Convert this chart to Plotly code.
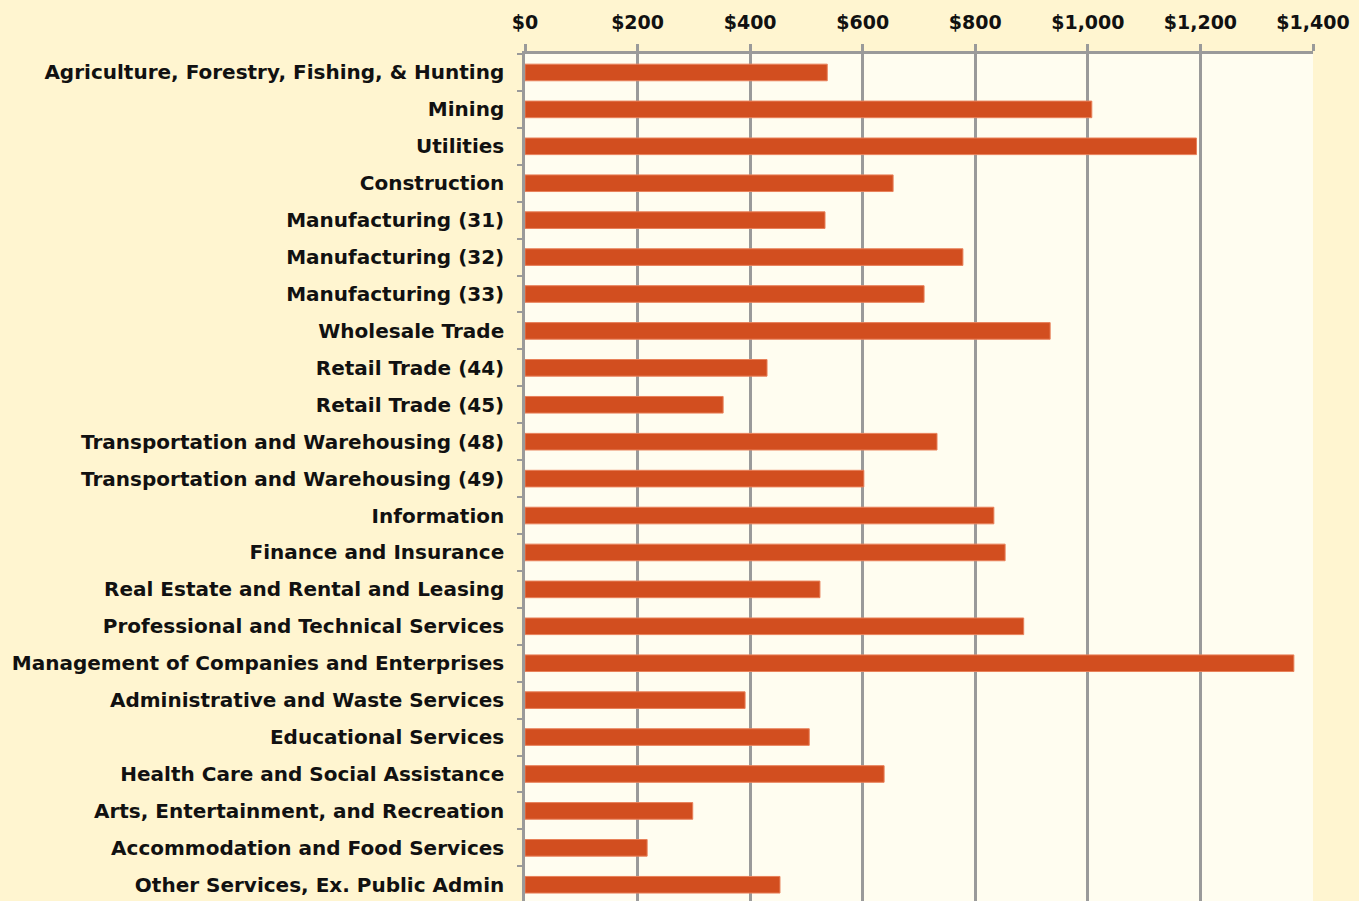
import plotly.graph_objects as go

categories = [
    "Agriculture, Forestry, Fishing, & Hunting",
    "Mining",
    "Utilities",
    "Construction",
    "Manufacturing (31)",
    "Manufacturing (32)",
    "Manufacturing (33)",
    "Wholesale Trade",
    "Retail Trade (44)",
    "Retail Trade (45)",
    "Transportation and Warehousing (48)",
    "Transportation and Warehousing (49)",
    "Information",
    "Finance and Insurance",
    "Real Estate and Rental and Leasing",
    "Professional and Technical Services",
    "Management of Companies and Enterprises",
    "Administrative and Waste Services",
    "Educational Services",
    "Health Care and Social Assistance",
    "Arts, Entertainment, and Recreation",
    "Accommodation and Food Services",
    "Other Services, Ex. Public Admin",
]
values = [537, 1007, 1193, 654, 533, 778, 709, 933, 430, 352, 732, 602,
          833, 853, 524, 886, 1366, 391, 505, 638, 298, 217, 453]
tick_vals = [0, 200, 400, 600, 800, 1000, 1200, 1400]
tick_text = ["$0", "$200", "$400", "$600", "$800", "$1,000", "$1,200", "$1,400"]

FONT = "DejaVu Sans"

fig = go.Figure(go.Bar(
    x=values, y=categories, orientation="h",
    marker=dict(color="#D24E1F", line=dict(color="#E8805A", width=1)),
    width=0.45,
))

fig.update_layout(
    width=1359, height=901,
    margin=dict(l=525, r=46, t=54, b=0),
    paper_bgcolor="#FFF5D0",
    plot_bgcolor="#FFFDF0",
    showlegend=False,
    font=dict(family=FONT, size=20, color="#111111"),
)
fig.update_xaxes(
    side="top", range=[0, 1400], tickvals=tick_vals, ticktext=tick_text,
    showgrid=True, gridcolor="#9A9A9A", gridwidth=2.5,
    ticks="outside", ticklen=7, tickcolor="#9A9A9A", tickwidth=2.5,
    showline=True, linecolor="#9A9A9A", linewidth=2.5,
    tickfont=dict(family=FONT, size=19, color="#111111", weight="bold"),
    ticklabelstandoff=8,
    zeroline=False, fixedrange=True,
)
fig.update_yaxes(
    categoryorder="array", categoryarray=categories,
    range=[22.44, -0.5], tickson="boundaries",
    ticks="outside", ticklen=5, tickcolor="#9A9A9A", tickwidth=2,
    showline=True, linecolor="#9A9A9A", linewidth=2.5,
    showgrid=False,
    tickfont=dict(family=FONT, size=20, color="#111111", weight="bold"),
    ticklabelstandoff=14, fixedrange=True,
)

fig.write_html(
    "out.html",
    config={"displayModeBar": False},
    post_script="document.body.style.margin='0';document.body.style.background='#FFF5D0';",
)
